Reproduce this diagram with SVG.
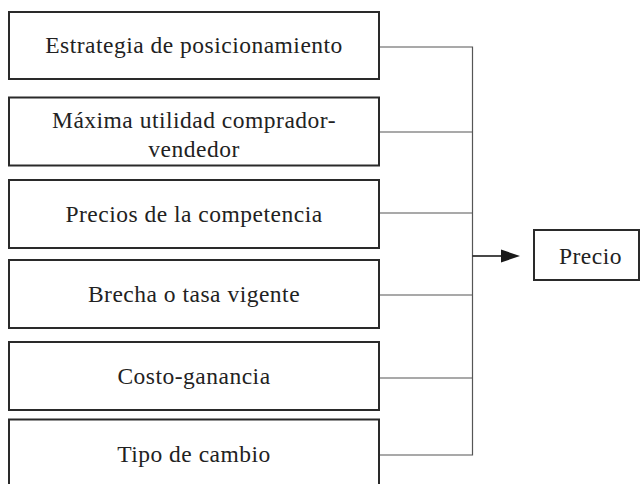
<svg xmlns="http://www.w3.org/2000/svg" width="642" height="484" viewBox="0 0 642 484">
<style>
.box{fill:#fff;stroke:#2a2a2a;stroke-width:2}
.t{font-family:'Liberation Serif','DejaVu Serif',serif;font-size:23.5px;letter-spacing:0.5px;fill:#222;text-anchor:middle}
.c{fill:none;stroke:#555;stroke-width:1.2}
</style>
<rect width="642" height="484" fill="#fff"/>
<g id="n1"><rect class="box" x="9" y="12" width="370" height="67"/><text class="t" x="194" y="53">Estrategia de posicionamiento</text></g>
<g id="n2"><rect class="box" x="9" y="97.5" width="370" height="68"/><text class="t" x="194" y="127.5">Máxima utilidad comprador-</text><text class="t" x="194" y="156.5">vendedor</text></g>
<g id="n3"><rect class="box" x="9" y="180" width="370" height="68"/><text class="t" x="194" y="222">Precios de la competencia</text></g>
<g id="n4"><rect class="box" x="9" y="260" width="370" height="68"/><text class="t" x="194" y="301.5">Brecha o tasa vigente</text></g>
<g id="n5"><rect class="box" x="9" y="342" width="370" height="68"/><text class="t" x="194" y="384">Costo-ganancia</text></g>
<g id="n6"><rect class="box" x="9" y="419.5" width="370" height="70"/><text class="t" x="194" y="461.5">Tipo de cambio</text></g>
<g id="n7"><rect class="box" x="534" y="230" width="105" height="50"/><text class="t" x="590.5" y="263.5">Precio</text></g>
<g id="connectors">
<path class="c" d="M380,47 H472.5 M380,132 H472.5 M380,213 H472.5 M380,295 H472.5 M380,378 H472.5 M380,455 H472.5 M472.5,46.5 V455.5"/>
<line x1="472.5" y1="256" x2="501" y2="256" stroke="#1a1a1a" stroke-width="1.6"/>
<path d="M501,249.5 L520,256 L501,262.5 Z" fill="#1a1a1a"/>
</g>
</svg>
